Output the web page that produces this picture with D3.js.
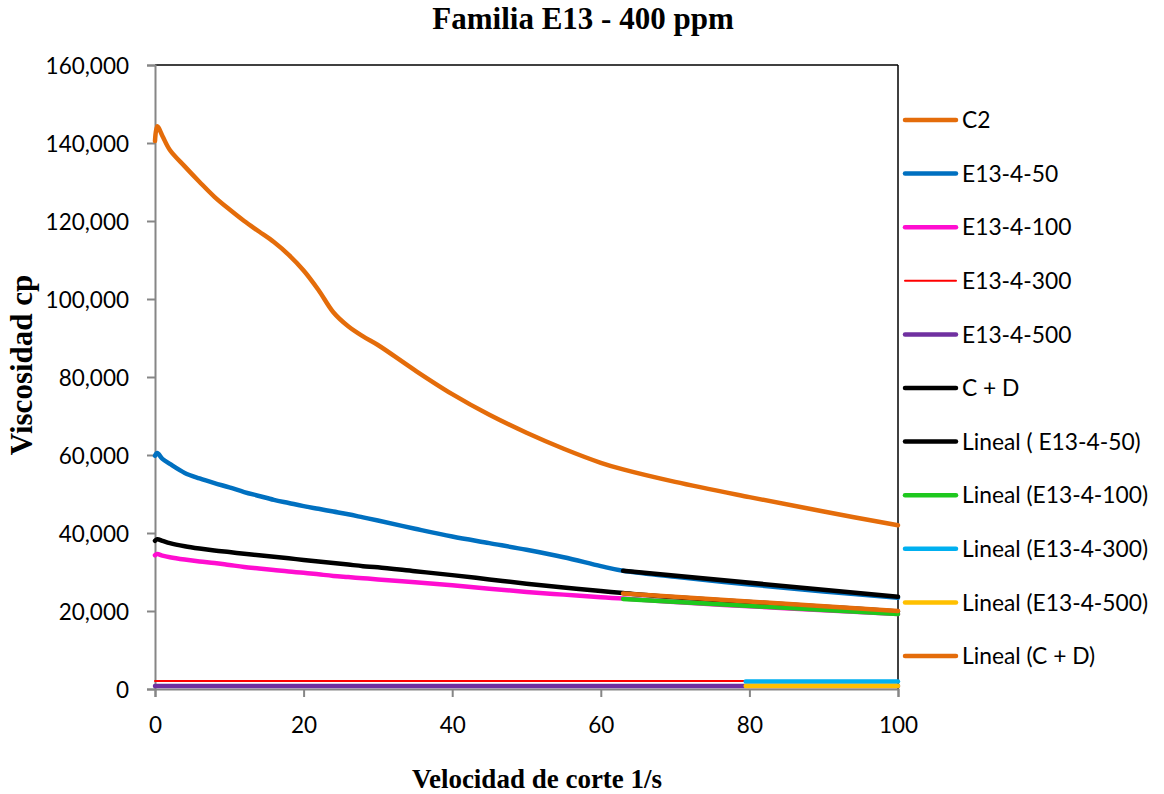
<!DOCTYPE html>
<html>
<head>
<meta charset="utf-8">
<script src="https://cdn.jsdelivr.net/npm/d3@7"></script>
<style>
  html, body { margin: 0; padding: 0; background: #fff; }
  svg { display: block; }
</style>
</head>
<body>
<svg id="chart" width="1164" height="794"></svg>
<script>
// Shear rate grid (1/s) shared by the measured curves
const shearRate = [0, 0.3, 1, 2, 4, 6, 8, 10, 12, 14, 16, 18, 20, 22, 24, 26, 28, 30,
                   35, 40, 45, 50, 55, 60, 63, 70, 80, 90, 100];

// Viscosity (cp) for each sample
const c2 = [140500, 144300, 141800, 138200, 134000, 130000, 126200, 123000, 120000, 117300,
            114600, 111300, 107300, 102300, 96600, 93000, 90400, 88200,
            81700, 75600, 70300, 65700, 61600, 58000, 56300, 53100, 49200, 45500, 42000];
const e13_4_50 = [59800, 60500, 59000, 57700, 55400, 54000, 52800, 51700, 50500, 49500,
                  48500, 47700, 46900, 46200, 45500, 44800, 44000, 43200,
                  41100, 39100, 37400, 35700, 33800, 31500, 30300, 28800, 26800, 25000, 23400];
const e13_4_100 = [34300, 34600, 34200, 33800, 33200, 32700, 32300, 31800, 31300, 30900,
                   30500, 30100, 29800, 29400, 29000, 28700, 28400, 28100,
                   27400, 26600, 25700, 24900, 24200, 23500, 23200, 22300, 21200, 20200, 19200];
const e13_4_300 = [2050, 2050, 2050, 2050, 2050, 2050, 2050, 2050, 2050, 2050,
                   2050, 2050, 2050, 2050, 2050, 2050, 2050, 2050,
                   2050, 2050, 2050, 2050, 2050, 2050, 2050, 2050, 2050, 2050, 2050];
const e13_4_500 = [770, 770, 770, 770, 770, 770, 770, 770, 770, 770,
                   770, 770, 770, 770, 770, 770, 770, 770,
                   770, 770, 770, 770, 770, 770, 770, 770, 770, 770, 770];
const cPlusD = [38000, 38400, 38000, 37400, 36600, 36000, 35500, 35100, 34700, 34300,
                33900, 33500, 33100, 32700, 32300, 31900, 31500, 31200,
                30200, 29200, 28100, 27000, 26000, 25100, 24600, 23500, 22300, 21100, 19900];

// Linear trend lines: [start, end] shear rate and viscosity
const trendUpperX = [63, 100];
const trendLowerX = [79.5, 100];
const trend_50 = [30300, 23650];
const trend_100 = [23100, 19200];
const trend_300 = [1900, 1900];
const trend_500 = [770, 770];
const trend_cd = [24500, 20000];

const xTicks = [0, 20, 40, 60, 80, 100];
const yTicks = [0, 20000, 40000, 60000, 80000, 100000, 120000, 140000, 160000];

const legendLabels = ["C2", "E13-4-50", "E13-4-100", "E13-4-300", "E13-4-500", "C + D",
                      "Lineal ( E13-4-50)", "Lineal (E13-4-100)", "Lineal (E13-4-300)",
                      "Lineal (E13-4-500)", "Lineal (C + D)"];

const svg = d3.select("#chart");
const plot = { left: 155, right: 898, top: 65, bottom: 689 };

const x = d3.scaleLinear().domain([0, 100]).range([plot.left, plot.right]);
const y = d3.scaleLinear().domain([0, 160000]).range([plot.bottom, plot.top]);

const series = [
  { name: legendLabels[0], xs: shearRate, ys: c2, color: "#E46C0A", width: 4.5, smooth: true },
  { name: legendLabels[1], xs: shearRate, ys: e13_4_50, color: "#0070C0", width: 4.5, smooth: true },
  { name: legendLabels[2], xs: shearRate, ys: e13_4_100, color: "#FF0DD0", width: 4.5, smooth: true },
  { name: legendLabels[3], xs: shearRate, ys: e13_4_300, color: "#FF0000", width: 2, smooth: true },
  { name: legendLabels[4], xs: shearRate, ys: e13_4_500, color: "#7030A0", width: 4.5, smooth: true },
  { name: legendLabels[5], xs: shearRate, ys: cPlusD, color: "#000000", width: 4.5, smooth: true },
  { name: legendLabels[6], xs: trendUpperX, ys: trend_50, color: "#000000", width: 4.5, smooth: false },
  { name: legendLabels[7], xs: trendUpperX, ys: trend_100, color: "#1EC81E", width: 4.5, smooth: false },
  { name: legendLabels[8], xs: trendLowerX, ys: trend_300, color: "#00B0F0", width: 4.5, smooth: false },
  { name: legendLabels[9], xs: trendLowerX, ys: trend_500, color: "#FFC000", width: 4.5, smooth: false },
  { name: legendLabels[10], xs: trendUpperX, ys: trend_cd, color: "#E46C0A", width: 4.5, smooth: false }
];

// Plot frame: black top and right edges
svg.append("line").attr("x1", plot.left).attr("x2", plot.right)
  .attr("y1", plot.top).attr("y2", plot.top)
  .attr("stroke", "#000").attr("stroke-width", 1.5);
svg.append("line").attr("x1", plot.right).attr("x2", plot.right)
  .attr("y1", plot.top).attr("y2", plot.bottom)
  .attr("stroke", "#000").attr("stroke-width", 1.5);

// Axes
const axisColor = "#868686";
const tickFont = "Lato, 'Liberation Sans', sans-serif";

const yAxis = svg.append("g").attr("transform", `translate(${plot.left},0)`)
  .call(d3.axisLeft(y).tickValues(yTicks).tickSize(8).tickPadding(18)
    .tickFormat(d3.format(",")));
const xAxis = svg.append("g").attr("transform", `translate(0,${plot.bottom})`)
  .call(d3.axisBottom(x).tickValues(xTicks).tickSize(8).tickPadding(20)
    .tickFormat(d3.format("d")));

[yAxis, xAxis].forEach(g => {
  g.select(".domain").attr("stroke", axisColor).attr("stroke-width", 2);
  g.selectAll(".tick line").attr("stroke", axisColor).attr("stroke-width", 2);
  g.selectAll(".tick text").attr("fill", "#000")
    .style("font-family", tickFont).style("font-size", "22.5px");
});
yAxis.selectAll(".tick text").attr("dy", "0.36em");

// Series lines
const lineSmooth = d3.line().x(d => x(d[0])).y(d => y(d[1])).curve(d3.curveCatmullRom.alpha(0.5));
const lineStraight = d3.line().x(d => x(d[0])).y(d => y(d[1]));

const lines = svg.append("g");
series.forEach(s => {
  const pts = s.xs.map((v, i) => [v, s.ys[i]]);
  lines.append("path")
    .attr("d", (s.smooth ? lineSmooth : lineStraight)(pts))
    .attr("fill", "none")
    .attr("stroke", s.color)
    .attr("stroke-width", s.width)
    .attr("stroke-linejoin", "round")
    .attr("stroke-linecap", "round");
});

// Legend
const legend = svg.append("g");
series.forEach((s, i) => {
  const ly = 120 + i * 53.6;
  legend.append("line")
    .attr("x1", 905).attr("x2", 956).attr("y1", ly).attr("y2", ly)
    .attr("stroke", s.color).attr("stroke-width", s.width)
    .attr("stroke-linecap", "round");
  legend.append("text")
    .attr("x", 962).attr("y", ly).attr("dy", "0.36em")
    .style("font-family", tickFont).style("font-size", "22.8px")
    .attr("fill", "#000")
    .text(s.name);
});

// Titles
const serif = "'Liberation Serif', 'Times New Roman', serif";
svg.append("text")
  .attr("x", 583).attr("y", 29)
  .attr("text-anchor", "middle")
  .style("font-family", serif).style("font-weight", "bold").style("font-size", "31px")
  .text("Familia E13 - 400 ppm");

svg.append("text")
  .attr("transform", "translate(32,365) rotate(-90)")
  .attr("text-anchor", "middle")
  .style("font-family", serif).style("font-weight", "bold").style("font-size", "31px")
  .text("Viscosidad cp");

svg.append("text")
  .attr("x", 537).attr("y", 788)
  .attr("text-anchor", "middle")
  .style("font-family", serif).style("font-weight", "bold").style("font-size", "27px")
  .text("Velocidad de corte 1/s");
</script>
</body>
</html>
